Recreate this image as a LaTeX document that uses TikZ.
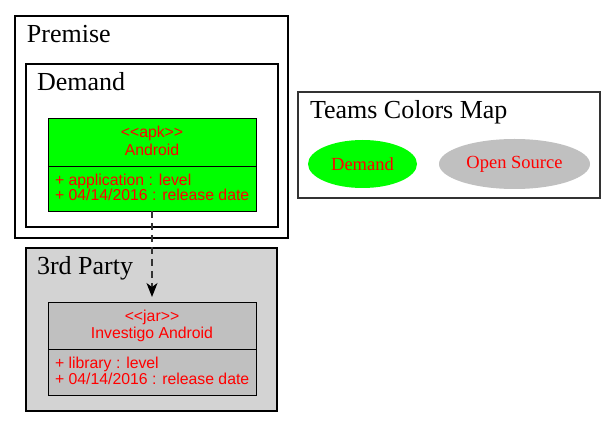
\documentclass[tikz,border=0pt]{standalone}
\usepackage{fontspec}
\setmainfont{Liberation Serif}
\newfontfamily\umlfont{Liberation Sans}
\usetikzlibrary{arrows.meta,shapes.geometric}

\definecolor{c00ff00}{RGB}{0,255,0}
\definecolor{cc0c0c0}{RGB}{192,192,192}
\definecolor{cd3d3d3}{RGB}{211,211,211}
\definecolor{cff0000}{RGB}{255,0,0}
\definecolor{c333333}{RGB}{51,51,51}

\tikzset{
  cluster/.style={draw=black,line width=2.0pt},
  clustertext/.style={anchor=base west,font=\fontsize{26}{30}\selectfont},
  classbox/.style={draw=black,line width=0.9pt,anchor=north west,minimum width=208pt},
  classtext/.style={text=cff0000,font=\umlfont\fontsize{15.8}{19}\selectfont},
  legendtext/.style={text=cff0000,font=\fontsize{18.5}{21}\selectfont},
}

\begin{document}
\begin{tikzpicture}[y=1pt, x=1pt, yscale=-1, xscale=1, inner sep=0pt, outer sep=0pt]
\useasboundingbox (0,0) rectangle (616,427);
\fill[white] (0,0) rectangle (616,427);

% clusters
\path[cluster] (15,16) rectangle (288,238);
\path (27,43) node[clustertext] (premise) {Premise};
\path[cluster] (26,64) rectangle (278,227);
\path (37,91) node[clustertext] (demand) {Demand};
\path[cluster,fill=cd3d3d3] (26,248) rectangle (277,411);
\path (37,275) node[clustertext] (thirdparty) {3rd Party};

% class Android
\node[classbox,fill=c00ff00,minimum height=48pt] (android) at (48,118) {};
\node[classbox,fill=c00ff00,minimum height=45pt] (androidattr) at (48,166) {};
\path (152,138) node[classtext,anchor=base] (androidstereo) {<<apk>>};
\path (152,156) node[classtext,anchor=base] (androidname) {Android};
\path (55,186) node[classtext,anchor=base west] (androidlevel) {+ application : level};
\path (55,201) node[classtext,anchor=base west] (androiddate) {+ 04/14/2016 : release date};

% class Investigo Android
\node[classbox,fill=cc0c0c0,minimum height=47pt] (investigo) at (48,302) {};
\node[classbox,fill=cc0c0c0,minimum height=46pt] (investigoattr) at (48,349) {};
\path (152,322) node[classtext,anchor=base] (investigostereo) {<<jar>>};
\path (152,339) node[classtext,anchor=base] (investigoname) {Investigo Android};
\path (55,369) node[classtext,anchor=base west] (investigolevel) {+ library : level};
\path (55,385) node[classtext,anchor=base west] (investigodate) {+ 04/14/2016 : release date};

% dependency
\draw[c333333,line width=1.3pt,dash pattern=on 7pt off 5pt,shorten >=5pt,
  -{Stealth[length=14pt,width=11pt,inset=4pt,color=black]}]
  (androidattr.south) -- (investigo.north);

% legend
\path[draw=c333333,line width=1.2pt] (298,92) rectangle (600,198);
\path (310,119) node[clustertext] (teams) {Teams Colors Map};
\node[ellipse,fill=c00ff00,minimum width=109pt,minimum height=48pt] (legenddemand) at (362.5,164) {};
\node[legendtext] at (legenddemand) {Demand};
\node[ellipse,fill=cc0c0c0,minimum width=151pt,minimum height=50pt] (legendopen) at (514.5,164) {};
\node[legendtext] at (legendopen) {Open Source};

\end{tikzpicture}
\end{document}
